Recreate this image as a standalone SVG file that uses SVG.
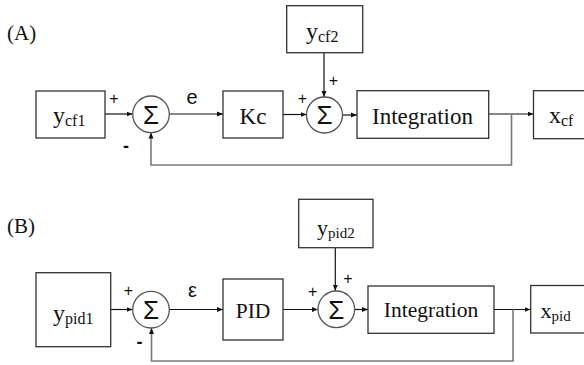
<svg xmlns="http://www.w3.org/2000/svg" width="584" height="365" viewBox="0 0 584 365">
<defs>
<style>
.box{fill:#fff;stroke:#333;stroke-width:1.3}
.sum{fill:#fff;stroke:#555;stroke-width:1.3}
.lbl{font-family:"Liberation Serif","Times New Roman",serif;fill:#111}
.sig{font-family:"Liberation Sans",Arial,sans-serif;fill:#111}
.minus{font-family:"Liberation Sans",Arial,sans-serif;fill:#111;font-weight:bold;font-size:18px}
.line{fill:none;stroke:#111;stroke-width:1.2;marker-end:url(#arr)}
.fb{fill:none;stroke:#7a7a7a;stroke-width:1.6;marker-end:url(#arr)}
</style>
<marker id="arr" markerUnits="userSpaceOnUse" markerWidth="7" markerHeight="6" refX="6" refY="3" orient="auto">
<path d="M0,0.5 L6,3 L0,5.5 z" fill="#111"/>
</marker>
</defs>
<rect width="584" height="365" fill="#fff"/>

<text class="lbl" x="7" y="40" font-size="21">(A)</text>
<text class="lbl" x="7" y="233" font-size="21">(B)</text>

<g id="connectors">
<line class="line" x1="105" y1="114" x2="132.5" y2="114"/>
<line class="line" x1="169.5" y1="114" x2="223" y2="114"/>
<line class="line" x1="283" y1="114.5" x2="306.5" y2="114.5"/>
<line class="line" x1="324" y1="53" x2="324" y2="97"/>
<line class="line" x1="342.5" y1="115" x2="357" y2="115"/>
<line class="line" x1="489" y1="114" x2="533.5" y2="114"/>
<polyline class="fb" points="511.5,114 511.5,165 151,165 151,132.5"/>

<line class="line" x1="110.7" y1="309.5" x2="132.5" y2="309.5"/>
<line class="line" x1="169.5" y1="309.5" x2="223" y2="309.5"/>
<line class="line" x1="283" y1="309.5" x2="317.8" y2="309.5"/>
<line class="line" x1="335.3" y1="248" x2="335.3" y2="290.8"/>
<line class="line" x1="354.8" y1="309.5" x2="368" y2="309.5"/>
<line class="line" x1="494" y1="309.5" x2="530.5" y2="309.5"/>
<polyline class="fb" points="513,309.5 513,361 151.5,361 151.5,328"/>
</g>

<g id="ycf1">
<rect class="box" x="36" y="91" width="69" height="47"/>
<text class="lbl" x="53" y="123" font-size="24">y<tspan font-size="16" dy="3">cf1</tspan></text>
</g>
<g id="sumA1">
<circle class="sum" cx="151" cy="114.3" r="18.3"/>
<text class="sig" x="151" y="123.8" font-size="26" text-anchor="middle">Σ</text>
<text class="sig" x="114" y="104.3" font-size="16" text-anchor="middle">+</text>
<text class="minus" x="126" y="152" text-anchor="middle">-</text>
<text class="sig" x="192" y="104" font-size="20" text-anchor="middle">e</text>
</g>
<g id="kc">
<rect class="box" x="223" y="91" width="60" height="47"/>
<text class="lbl" x="253" y="124" font-size="23" text-anchor="middle">Kc</text>
</g>
<g id="ycf2">
<rect class="box" x="286.7" y="5.7" width="76" height="47"/>
<text class="lbl" x="306" y="38.5" font-size="24">y<tspan font-size="16" dy="3">cf2</tspan></text>
</g>
<g id="sumA2">
<circle class="sum" cx="324.5" cy="115" r="18"/>
<text class="sig" x="324.5" y="124.3" font-size="26" text-anchor="middle">Σ</text>
<text class="sig" x="302.3" y="103.6" font-size="16" text-anchor="middle">+</text>
<text class="sig" x="333.5" y="85.6" font-size="16" text-anchor="middle">+</text>
</g>
<g id="integrationA">
<rect class="box" x="357" y="90.7" width="131.7" height="47.6"/>
<text class="lbl" x="422.5" y="124" font-size="23" text-anchor="middle">Integration</text>
</g>
<g id="xcf">
<rect class="box" x="533.5" y="90.7" width="60" height="48"/>
<text class="lbl" x="549" y="123" font-size="24">x<tspan font-size="16" dy="3">cf</tspan></text>
</g>

<g id="ypid1">
<rect class="box" x="36" y="272.7" width="74.7" height="74"/>
<text class="lbl" x="53" y="321" font-size="24">y<tspan font-size="16" dy="2.5">pid1</tspan></text>
</g>
<g id="sumB1">
<circle class="sum" cx="151" cy="309.7" r="18.3"/>
<text class="sig" x="151" y="319.2" font-size="26" text-anchor="middle">Σ</text>
<text class="sig" x="128.5" y="295.6" font-size="16" text-anchor="middle">+</text>
<text class="minus" x="139.5" y="347.5" text-anchor="middle">-</text>
<text class="sig" x="192.5" y="296.5" font-size="20" text-anchor="middle">ε</text>
</g>
<g id="pid">
<rect class="box" x="223" y="279" width="60" height="61"/>
<text class="lbl" x="253" y="317.7" font-size="21.5" text-anchor="middle">PID</text>
</g>
<g id="ypid2">
<rect class="box" x="298.7" y="199.3" width="74.3" height="48.4"/>
<text class="lbl" x="317" y="235" font-size="22">y<tspan font-size="15" dy="2.5">pid2</tspan></text>
</g>
<g id="sumB2">
<circle class="sum" cx="336.3" cy="309.3" r="18.3"/>
<text class="sig" x="336.3" y="318.8" font-size="26" text-anchor="middle">Σ</text>
<text class="sig" x="312.7" y="296.6" font-size="16" text-anchor="middle">+</text>
<text class="sig" x="348" y="283.6" font-size="16" text-anchor="middle">+</text>
</g>
<g id="integrationB">
<rect class="box" x="368" y="286" width="126" height="47.3"/>
<text class="lbl" x="431" y="316.7" font-size="21.5" text-anchor="middle">Integration</text>
</g>
<g id="xpid">
<rect class="box" x="530.7" y="285.5" width="62" height="47.5"/>
<text class="lbl" x="540.5" y="318.3" font-size="22">x<tspan font-size="15" dy="3">pid</tspan></text>
</g>
</svg>
